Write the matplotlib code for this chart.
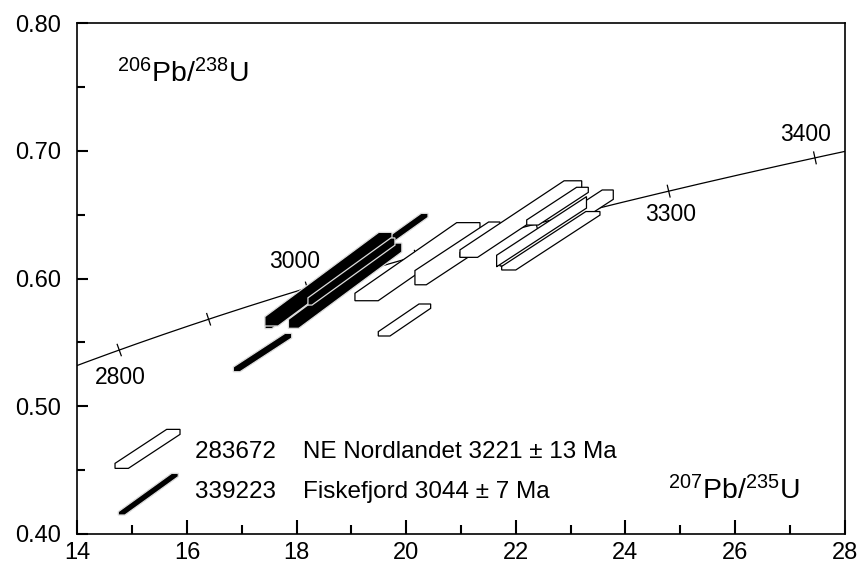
import numpy as np
import matplotlib
matplotlib.use("Agg")
import matplotlib.pyplot as plt
from matplotlib.patches import Polygon
from matplotlib.ticker import MultipleLocator, FormatStrFormatter

plt.rcParams["font.family"] = ["Liberation Sans", "DejaVu Sans"]
plt.rcParams["mathtext.fontset"] = "custom"
plt.rcParams["mathtext.rm"] = "Liberation Sans"
plt.rcParams["mathtext.it"] = "Liberation Sans:italic"

# decay constants (1/yr)
L238 = 1.55125e-10
L235 = 9.8485e-10

tick_ages = [2800, 2900, 3000, 3100, 3200, 3300, 3400]
label_ages = [2800, 3000, 3300, 3400]
label_offsets = [(1, -20), (-9, 19), (1.5, -17), (-6.5, 17)]   # points

# error boxes: 207Pb/235U centre, half-width; 206Pb/238U centre, half-width;
# slope of the correlation band and its half-width (in 206Pb/238U)
nord_r75 = [20.205, 19.968, 20.935, 21.575, 22.092, 22.761, 22.745, 22.639, 22.47]
nord_e75 = [1.141, 0.478, 0.776, 0.593, 1.111, 0.562, 1.034, 0.897, 0.82]
nord_r68 = [0.6132, 0.5675, 0.6197, 0.6322, 0.6466, 0.6567, 0.6396, 0.6296, 0.6367]
nord_e68 = [0.0306, 0.01254, 0.0246, 0.0155, 0.0300, 0.0148, 0.0298, 0.0229, 0.0274]
nord_slope = [0.0298, 0.0292, 0.0283, 0.0283, 0.0285, 0.0281, 0.0280, 0.0280, 0.0280]
nord_band = [0.00925, 0.00481, 0.0085, 0.0050, 0.0075, 0.0050, 0.0065, 0.0050, 0.0045]

fisk_r75 = [17.377, 18.910, 18.58, 18.885, 19.0]
fisk_e75 = [0.533, 1.4875, 1.16, 1.035, 0.794]
fisk_r68 = [0.5420, 0.6059, 0.5995, 0.5944, 0.6055]
fisk_e68 = [0.01505, 0.0452, 0.0367, 0.0334, 0.0263]
fisk_slope = [0.0280, 0.0306, 0.0318, 0.0318, 0.0310]
fisk_band = [0.00356, 0.0035, 0.0075, 0.0065, 0.0040]

# legend symbols (same box description)
leg_r75 = [15.278, 15.292]
leg_e75 = [0.593, 0.5476]
leg_r68 = [0.4665, 0.4310]
leg_e68 = [0.01528, 0.01634]
leg_slope = [0.02825, 0.0309]
leg_band = [0.0054, 0.00317]
leg_text = ["283672    NE Nordlandet 3221 \u00b1 13 Ma",
            "339223    Fiskefjord 3044 \u00b1 7 Ma"]


def concordia(t_ma):
    t = np.asarray(t_ma, float) * 1e6
    return np.exp(L235 * t) - 1, np.exp(L238 * t) - 1


def clip(poly, a, b, c):
    """Keep the part of poly with a*x + b*y <= c."""
    out = []
    for i in range(len(poly)):
        p, q = poly[i], poly[(i + 1) % len(poly)]
        fp = a * p[0] + b * p[1] - c
        fq = a * q[0] + b * q[1] - c
        if fp <= 0:
            out.append(p)
        if fp * fq < 0:
            s = fp / (fp - fq)
            out.append((p[0] + s * (q[0] - p[0]), p[1] + s * (q[1] - p[1])))
    return out


def error_box(xc, ex, yc, ey, m, w):
    poly = [(xc - ex, yc - ey), (xc + ex, yc - ey), (xc + ex, yc + ey), (xc - ex, yc + ey)]
    b0 = yc - m * xc
    poly = clip(poly, -m, 1, b0 + w)
    poly = clip(poly, m, -1, -(b0 - w))
    return poly


def draw_boxes(ax, r75, e75, r68, e68, slope, band, fc, ec, z):
    for i in range(len(r75)):
        pts = error_box(r75[i], e75[i], r68[i], e68[i], slope[i], band[i])
        ax.add_patch(Polygon(pts, closed=True, fc=fc, ec=ec, lw=0.9, zorder=z))


fig = plt.figure(figsize=(8.63, 5.69), dpi=100)
ax = fig.add_axes([0.0898, 0.0620, 0.8888, 0.8970])
ax.set_xlim(14, 28)
ax.set_ylim(0.40, 0.80)

# concordia curve
tt = np.linspace(2700, 3450, 400)
cx, cy = concordia(tt)
ax.plot(cx, cy, color="k", lw=0.9, zorder=1)

for t in tick_ages:
    p0 = ax.transData.transform(np.array(concordia(t - 5)))
    p1 = ax.transData.transform(np.array(concordia(t + 5)))
    d = (p1 - p0) / np.hypot(*(p1 - p0))
    nrm = np.array([-d[1], d[0]])
    c = ax.transData.transform(np.array(concordia(t)))
    seg = ax.transData.inverted().transform(np.array([c - 6 * nrm, c + 6 * nrm]))
    ax.plot(seg[:, 0], seg[:, 1], color="k", lw=0.9, zorder=1)

for t, off in zip(label_ages, label_offsets):
    ax.annotate(str(t), concordia(t), xytext=off, textcoords="offset points",
                ha="center", va="center", fontsize=16.5)

draw_boxes(ax, nord_r75, nord_e75, nord_r68, nord_e68, nord_slope, nord_band,
           "white", "k", 3)
draw_boxes(ax, fisk_r75, fisk_e75, fisk_r68, fisk_e68, fisk_slope, fisk_band,
           "k", "#dddddd", 4)

# legend
for i, (fc, ec) in enumerate([("white", "k"), ("k", "#dddddd")]):
    pts = error_box(leg_r75[i], leg_e75[i], leg_r68[i], leg_e68[i], leg_slope[i], leg_band[i])
    ax.add_patch(Polygon(pts, closed=True, fc=fc, ec=ec, lw=0.9, zorder=3))
ax.text(16.145, 0.4593, leg_text[0], fontsize=17.5, va="baseline")
ax.text(16.145, 0.4280, leg_text[1], fontsize=17.5, va="baseline")

ax.text(14.72, 0.754, r"$^{206}$Pb/$^{238}$U", fontsize=20.5, va="baseline")
ax.text(24.78, 0.4272, r"$^{207}$Pb/$^{235}$U", fontsize=20.5, va="baseline")

ax.xaxis.set_major_locator(MultipleLocator(2))
ax.xaxis.set_minor_locator(MultipleLocator(1))
ax.yaxis.set_major_locator(MultipleLocator(0.1))
ax.yaxis.set_minor_locator(MultipleLocator(0.05))
ax.yaxis.set_major_formatter(FormatStrFormatter("%.2f"))
ax.tick_params(axis="both", which="both", direction="in", top=False, right=False,
               width=1.5, labelsize=17)
ax.tick_params(axis="x", which="major", length=10, pad=6)
ax.tick_params(axis="x", which="minor", length=6.5)
ax.tick_params(axis="y", which="major", length=8, pad=12)
ax.tick_params(axis="y", which="minor", length=6)
for sp in ax.spines.values():
    sp.set_linewidth(1.2)

fig.savefig("out.png", dpi=100)
